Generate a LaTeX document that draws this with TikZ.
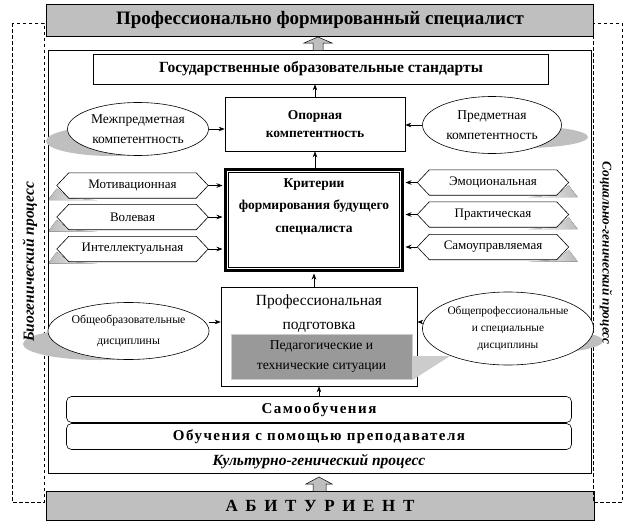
\documentclass[tikz,border=0pt]{standalone}
\usepackage{fontspec}
\setmainfont{Liberation Serif}
\newfontfamily\spacedA[LetterSpace=10]{Liberation Serif}
\newfontfamily\spacedB[LetterSpace=45]{Liberation Serif}
\usetikzlibrary{arrows.meta,calc,shapes.geometric}
\pgfdeclarelayer{shd}
\pgfdeclarelayer{bg}
\pgfsetlayers{shd,bg,main}
\newcommand\fsz[1]{\fontsize{#1}{#1}\selectfont}
\newcommand\hexbox[5]{%
  \node[hexnode] (#1) at (#2,#3) {#5};
  \begin{pgfonlayer}{bg}
  \draw[line width=0.6pt, fill=white] (#1.west) -- ([xshift=12pt]#1.north west) -- ([xshift=-12pt]#1.north east) -- (#1.east) -- ([xshift=-12pt]#1.south east) -- ([xshift=12pt]#1.south west) -- cycle;
  \end{pgfonlayer}
  \begin{pgfonlayer}{shd}
  \ifx#4L
  \fill[left color=gray!55, right color=white] ([xshift=-9pt,yshift=-2pt]#1.south west) -- ([yshift=-3pt]#1.west) -- ([xshift=12pt]#1.south west) -- ([xshift=40pt,yshift=-2pt]#1.south west) -- cycle;
  \else
  \fill[right color=gray!55, left color=white] ([xshift=9pt,yshift=-2pt]#1.south east) -- ([yshift=-3pt]#1.east) -- ([xshift=-12pt]#1.south east) -- ([xshift=-40pt,yshift=-2pt]#1.south east) -- cycle;
  \fi
  \end{pgfonlayer}}
\begin{document}
\begin{tikzpicture}[x=1pt,y=-1pt,
  >={Stealth[length=6pt,width=4.5pt]},
  box/.style={draw, line width=0.6pt, align=center, inner sep=0pt},
  ell/.style={ellipse, draw, line width=0.6pt, fill=white, align=center, inner sep=0pt},
  hexnode/.style={minimum width=151pt, minimum height=25pt, inner sep=0pt, font=\fsz{13}},
  shadowfill/.style={fill=gray!50, draw=none},
  arr/.style={->, line width=0.6pt},
  dsh/.style={dash pattern=on 3.5pt off 2.5pt, line width=0.6pt},
  blockarr/.style={draw, fill=gray!50, line width=0.5pt, line join=miter},
  sidelabel/.style={font=\bfseries\itshape\fsz{15.5}}]
\useasboundingbox (0,0) rectangle (632,530);
\begin{pgfonlayer}{shd}
\fill[white] (0,0) rectangle (632,530);
\end{pgfonlayer}

% top and bottom boxes
\node[box, fill=gray!50, minimum width=547pt, minimum height=32pt, font=\bfseries\fsz{19}] (top) at (320,20) {Профессионально формированный специалист};
\node[box, fill=gray!50, minimum width=548pt, minimum height=29pt, font=\spacedB\bfseries\fsz{17}] (abit) at (320,505.5) {АБИТУРИЕНТ};

% dashed side frames
\draw[dsh] (12,23) rectangle (44,502);
\draw[dsh] (593,23) rectangle (622,502);

% main frame
\node[draw, line width=0.6pt, minimum width=543pt, minimum height=423pt, inner sep=0pt] (frame) at (319.5,261.5) {};

% block arrows
\draw[blockarr] (313,50) -- (313,43) -- (304,43) -- (318,37) -- (332,43) -- (323,43) -- (323,50);
\draw[blockarr] (313,491) -- (313,484) -- (306,484) -- (319,477) -- (332,484) -- (326,484) -- (326,491);

% standards
\node[box, minimum width=455pt, minimum height=30pt, font=\bfseries\fsz{15.5}] (gos) at (321,69) {Государственные образовательные стандарты};

% opornaya
\node[box, minimum width=180pt, minimum height=54pt, font=\bfseries\fsz{13.5}] (opora) at (315,124) {Опорная\\[5pt]компетентность};

% ellipses upper
\fill[shadowfill] (112,141) ellipse [x radius=66, y radius=15];
\node[ell, minimum width=141pt, minimum height=53pt, font=\fsz{13.5}] (mezh) at (138,129) {Межпредметная\\[6pt]компетентность};
\fill[shadowfill] (522,137) ellipse [x radius=66, y radius=11];
\node[ell, minimum width=139pt, minimum height=57pt, font=\fsz{13.5}] (pred) at (492,125) {Предметная\\[6pt]компетентность};

% criteria
\node[draw, line width=3pt, minimum width=177pt, minimum height=101pt, align=center, inner sep=0pt, font=\bfseries\fsz{13.5}] (krit) at (314,220) {Критерии\\[9pt]формирования будущего\\[9pt]специалиста\\[16pt]};
\draw[line width=0.6pt] ([xshift=4.5pt,yshift=-4.5pt]krit.north west) rectangle ([xshift=-4.5pt,yshift=4.5pt]krit.south east);

% hexagons
\hexbox{mot}{132.5}{185.5}{L}{Мотивационная}
\hexbox{vol}{132.5}{217}{L}{Волевая}
\hexbox{int}{132.5}{249}{L}{Интеллектуальная}
\hexbox{emo}{493}{182.5}{R}{Эмоциональная}
\hexbox{prak}{493}{214.5}{R}{Практическая}
\hexbox{samu}{493}{247}{R}{Самоуправляемая}

% professional training
\node[box, minimum width=196pt, minimum height=99pt] (prof) at (319,336.5) {};
\node[font=\fsz{15.5}, align=center, anchor=north] (proft) at (319,291) {Профессиональная\\[9pt]подготовка};
\fill[gray!40] (410,356) -- (450,356) -- (414,379) -- (410,379) -- cycle;
\node[draw=gray!40, fill=gray!80, line width=0.8pt, minimum width=181pt, minimum height=45pt, inner sep=0pt, align=center, font=\fsz{13.6}] (ped) at (321.5,356.5) {Педагогические и\\[6pt]технические ситуации};

% ellipses lower
\fill[shadowfill] (100,344) ellipse [x radius=77, y radius=16];
\node[ell, minimum width=141pt, minimum height=57pt, font=\fsz{11.8}] (obr) at (128.5,331) {Общеобразовательные\\[9pt]дисциплины};
\fill[shadowfill] (528,341) ellipse [x radius=75, y radius=13];
\node[ell, minimum width=146pt, minimum height=73pt, font=\fsz{11.4}] (oprof) at (508,328.5) {Общепрофессиональные\\[6pt]и специальные\\[6pt]дисциплины};

% learning boxes
\node[draw, line width=0.6pt, rounded corners=5pt, minimum width=505pt, minimum height=26pt, inner sep=0pt, font=\spacedA\bfseries\fsz{15}] (samo) at (319,409.5) {Самообучения};
\node[draw, line width=0.6pt, rounded corners=5pt, minimum width=505pt, minimum height=26pt, inner sep=0pt, font=\spacedA\bfseries\fsz{15}] (obuch) at (319,436.5) {Обучения с помощью преподавателя};
\node[font=\bfseries\itshape\fsz{15.5}] (kult) at (319,462) {Культурно-генический процесс};

% side labels
\node[sidelabel, rotate=90] (bio) at (30,262) {Биогенический процесс};
\node[sidelabel, rotate=-90, font=\bfseries\itshape\fsz{13.3}] (soc) at (606,253) {Социально-генический процесс};

% connectors
\draw[arr] (opora.north) -- (opora.north |- gos.south);
\draw[arr] (krit.north -| opora.south) -- (opora.south);
\draw[arr] (mezh.east) -- (mezh.east -| opora.west);
\draw[arr] (pred.west) -- (pred.west -| opora.east);
\draw[arr, shorten >=1.5pt] (mot.east) -- (mot.east -| krit.west);
\draw[arr, shorten >=1.5pt] (vol.east) -- (vol.east -| krit.west);
\draw[arr, shorten >=1.5pt] (int.east) -- (int.east -| krit.west);
\draw[arr, shorten >=1.5pt] (emo.west) -- (emo.west -| krit.east);
\draw[arr, shorten >=1.5pt] (prak.west) -- (prak.west -| krit.east);
\draw[arr, shorten >=1.5pt] (samu.west) -- (samu.west -| krit.east);
\draw[arr, shorten >=1.5pt] (prof.north -| krit.south) -- (krit.south);
\draw[arr] (samo.north -| prof.south) -- (prof.south);
\draw[arr] (obr.east |- 0,322) -- (prof.west |- 0,322);
\draw[arr] (oprof.west |- 0,322) -- (prof.east |- 0,322);
\end{tikzpicture}
\end{document}
